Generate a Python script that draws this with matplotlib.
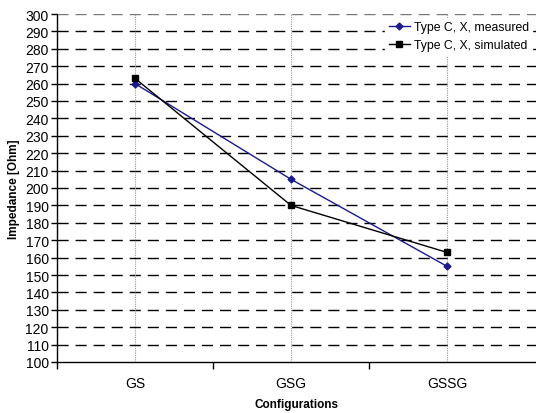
import matplotlib
matplotlib.use("Agg")
import matplotlib.pyplot as plt
import numpy as np

categories = ["GS", "GSG", "GSSG"]
measured = [260, 205, 155]
simulated = [263, 190, 163]
y_ticks = list(range(100, 301, 10))

plt.rcParams['font.family'] = ['Liberation Sans', 'DejaVu Sans']

fig = plt.figure(figsize=(5.36, 4.14), dpi=100)
W, H = 536, 414
ax = fig.add_axes([57 / W, 1 - 363 / H, 1 - 57 / W, (363 - 15) / H])

x = np.arange(len(categories))
ax.plot(x, measured, color='#1a1a8c', lw=1, marker='D', ms=3.5,
        label='Type C, X, measured', zorder=3)
ax.plot(x, simulated, color='black', lw=1, marker='s', ms=5,
        label='Type C, X, simulated', zorder=3)

ax.set_ylim(100, 300)
ax.set_xlim(-0.5, 2.5 + 11 / 156)
ax.set_yticks(y_ticks)
ax.set_yticklabels([str(v) for v in y_ticks], fontsize=10)
ax.set_xticks(x)
ax.set_xticklabels(categories, fontsize=10)
ax.set_xticks([-0.5, 0.5, 1.5], minor=True)
ax.tick_params(axis='x', which='major', length=0, pad=10)
ax.tick_params(axis='x', which='minor', length=5, width=1, direction='out')
ax.tick_params(axis='y', length=4, width=1, direction='out', pad=2)

for v in y_ticks[1:]:
    col = '#777777' if v in (300,) else 'black'
    ax.axhline(v, color=col, lw=1, ls=(0, (8, 5)), zorder=1)
for xi in x:
    ax.axvline(xi, color='#999999', lw=0.8, ls=(0, (1, 1)), zorder=1)

for s in ['top', 'right']:
    ax.spines[s].set_visible(False)
ax.spines['left'].set_linewidth(1)
ax.spines['bottom'].set_linewidth(1)

ax.set_ylabel('Impedance [Ohm]', fontsize=8.5, fontweight='bold', labelpad=4)
ax.set_xlabel('Configurations', fontsize=8.5, fontweight='bold', labelpad=6)

leg = ax.legend(loc='upper right', bbox_to_anchor=(1.0, 1.0), frameon=True,
                fontsize=8.8, handlelength=1.7, handletextpad=0.3,
                borderpad=0.3, labelspacing=0.45, fancybox=False,
                borderaxespad=0.3)
leg.get_frame().set_edgecolor('white')
leg.get_frame().set_facecolor('white')
leg.get_frame().set_alpha(1)
leg.set_zorder(5)

fig.savefig('out.png', dpi=100)
